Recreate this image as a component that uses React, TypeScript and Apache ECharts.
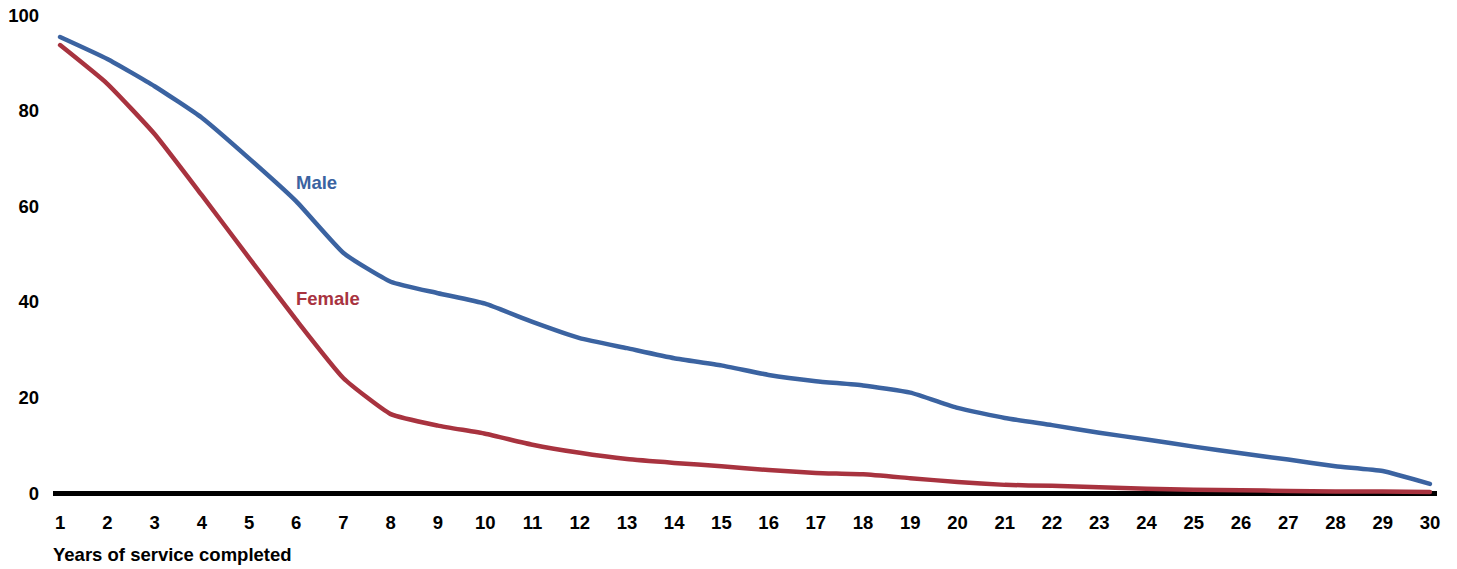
import React, { useEffect, useRef } from "react";
import * as echarts from "echarts";

const years: number[] = Array.from({ length: 30 }, (_, i) => i + 1);
const male: number[] = [
  95.4, 90.8, 85.1, 78.5, 70.0, 61.0, 50.2, 44.2, 41.8, 39.6,
  35.8, 32.4, 30.3, 28.2, 26.7, 24.7, 23.4, 22.5, 21.0, 17.8,
  15.7, 14.2, 12.6, 11.2, 9.7, 8.3, 7.0, 5.6, 4.6, 1.9,
];
const female: number[] = [
  93.7, 85.6, 75.1, 62.3, 49.2, 36.2, 24.0, 16.5, 14.1, 12.4,
  10.1, 8.4, 7.1, 6.3, 5.6, 4.8, 4.2, 3.9, 3.1, 2.3,
  1.7, 1.5, 1.2, 0.9, 0.7, 0.6, 0.4, 0.3, 0.3, 0.2,
];
const yTicks: number[] = [0, 20, 40, 60, 80, 100];

const BLUE = "#3B63A1";
const RED = "#A8333F";
const FONT = "'Liberation Sans', Arial, sans-serif";
const FS = 18.5;

export default function App() {
  const ref = useRef<HTMLDivElement>(null);
  useEffect(() => {
    document.body.style.margin = "0";
    if (!ref.current) return;
    const chart = echarts.init(ref.current, null, { renderer: "svg" });
    chart.setOption({
      animation: false,
      backgroundColor: "#ffffff",
      grid: { left: 53, right: 20, top: 15, bottom: 76, containLabel: false },
      xAxis: {
        type: "value",
        min: 0.85,
        max: 30.15,
        splitLine: { show: false },
        axisTick: { show: false },
        axisLine: { show: true, onZero: true, lineStyle: { color: "#000", width: 5, cap: "butt" } },
        axisLabel: {
          customValues: years,
          margin: 20,
          color: "#000",
          fontWeight: "bold",
          fontSize: FS,
          fontFamily: FONT,
        },
      },
      yAxis: {
        type: "value",
        min: 0,
        max: 100,
        interval: 20,
        splitLine: { show: false },
        axisTick: { show: false },
        axisLine: { show: false },
        axisLabel: {
          customValues: yTicks,
          margin: 14,
          color: "#000",
          fontWeight: "bold",
          fontSize: FS,
          fontFamily: FONT,
        },
      },
      series: [
        {
          name: "Male",
          type: "line",
          data: years.map((y, i) => [y, male[i]]),
          symbol: "none",
          smooth: 0.15,
          lineStyle: { color: BLUE, width: 4.5, cap: "round", join: "round" },
          z: 3,
        },
        {
          name: "Female",
          type: "line",
          data: years.map((y, i) => [y, female[i]]),
          symbol: "none",
          smooth: 0.15,
          lineStyle: { color: RED, width: 4.5, cap: "round", join: "round" },
          z: 3,
        },
      ],
      graphic: [
        {
          type: "text",
          left: 296,
          top: 173,
          style: { text: "Male", fill: BLUE, font: `bold ${FS}px ${FONT}` },
        },
        {
          type: "text",
          left: 296,
          top: 289,
          style: { text: "Female", fill: RED, font: `bold ${FS}px ${FONT}` },
        },
        {
          type: "text",
          left: 53,
          top: 545,
          style: { text: "Years of service completed", fill: "#000", font: `bold ${FS}px ${FONT}` },
        },
      ],
    });
    return () => chart.dispose();
  }, []);
  return <div ref={ref} style={{ width: 1457, height: 569 }} />;
}
